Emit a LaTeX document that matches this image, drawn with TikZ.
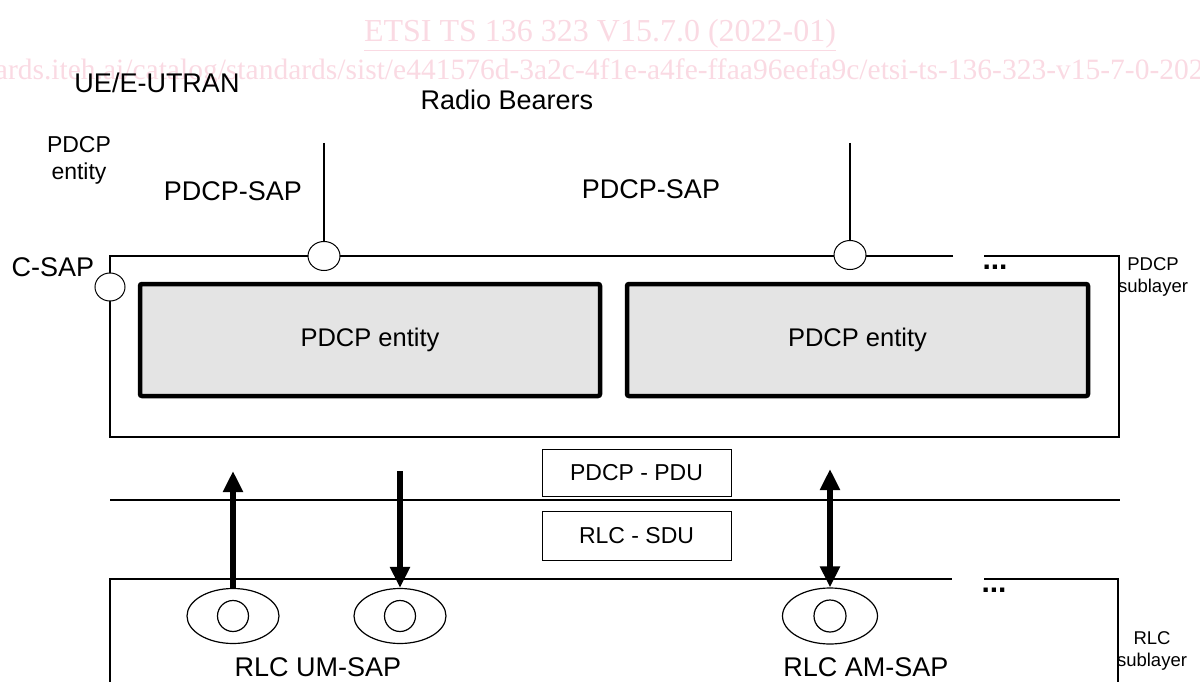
\documentclass[tikz,border=0pt]{standalone}
\usepackage{fontspec}
\setmainfont{Liberation Sans}
\newfontfamily\wmfont{Liberation Serif}
\usetikzlibrary{arrows.meta,shapes.geometric}
\definecolor{wmpink}{RGB}{250,218,227}
\definecolor{entfill}{RGB}{228,228,228}
\tikzset{
  lbl/.style={inner sep=0pt, font=\fontsize{27}{32}\selectfont},
  small/.style={inner sep=0pt, align=center, font=\fontsize{23}{27}\selectfont},
  tiny/.style={inner sep=0pt, align=center, font=\fontsize{18.5}{22}\selectfont},
  thin/.style={line width=1.3pt},
  sapring/.style={ellipse, draw, line width=1pt, fill=white, inner sep=0pt,
    minimum width=32pt, minimum height=29pt},
  entity/.style={draw, line width=4.5pt, fill=entfill, rounded corners=2pt,
    minimum height=112pt, inner sep=0pt, font=\fontsize{25.5}{30}\selectfont},
  pdubox/.style={draw, line width=1pt, minimum width=189pt, inner sep=0pt,
    font=\fontsize{23}{27}\selectfont},
  outerring/.style={ellipse, draw, line width=1.2pt, fill=white, inner sep=0pt,
    minimum width=92pt, minimum height=55pt},
  innerring/.style={circle, draw, line width=1.2pt, inner sep=0pt, minimum size=31pt},
  flow/.style={line width=6.5pt, -{Triangle[width=19pt,length=21pt]}},
  flowboth/.style={line width=6.5pt, {Triangle[width=19pt,length=21pt]}-{Triangle[width=19pt,length=21pt]}},
  dots/.style={inner sep=0pt, font=\fontsize{30}{30}\selectfont\bfseries}
}
\begin{document}
\begin{tikzpicture}[x=1pt,y=-1pt]
\useasboundingbox (0,0) rectangle (1200,682);

% document reference header
\begin{scope}
  \clip (0,0) rectangle (1200,682);
  \node[inner sep=0pt, text=wmpink, font=\wmfont\fontsize{32}{36}\selectfont]
    (hdr) at (600,35) {\underline{ETSI TS 136 323 V15.7.0 (2022-01)}};
  \node[inner sep=0pt, anchor=west, text=wmpink, font=\wmfont\fontsize{29.5}{34}\selectfont]
    (url) at (-20,72) {dards.iteh.ai/catalog/standards/sist/e441576d-3a2c-4f1e-a4fe-ffaa96eefa9c/etsi-ts-136-323-v15-7-0-2022-01};
\end{scope}

% titles and labels
\node[lbl] (ue) at (157,83) {UE/E-UTRAN};
\node[lbl] (rb) at (507,100) {Radio Bearers};
\node[small] (pdcplab) at (79,160) {PDCP\\entity};
\node[lbl] (sapAlab) at (233,191) {PDCP-SAP};
\node[lbl] (sapBlab) at (651,189) {PDCP-SAP};
\node[lbl] (csaplab) at (53,267) {C-SAP};

% PDCP sublayer frame
\draw[thin] (953,256) -- (110,256) -- (110,437) -- (1119,437) -- (1119,256) -- (984,256);
\node[dots] (dotsA) at (995,267) {...};
\node[tiny] (pdcpsub) at (1153,277) {PDCP\\sublayer};

% service access points of the PDCP sublayer
\node[sapring] (sapA) at (324,256) {};
\node[sapring] (sapB) at (850,255) {};
\node[sapring, minimum width=30pt, minimum height=28pt] (csap) at (110,287) {};
\coordinate (rbA) at (324,143);
\coordinate (rbB) at (850,143);
\draw[thin] (rbA) -- (sapA.north);
\draw[thin] (rbB) -- (sapB.north);

% PDCP entities
\node[entity, minimum width=460pt] (ent1) at (370,340) {PDCP entity};
\node[entity, minimum width=461pt] (ent2) at (857.5,340) {PDCP entity};

% layer boundary and PDU/SDU labels
\coordinate (bl) at (110,500);
\coordinate (br) at (1120,500);
\draw[thin] (bl) -- (br);
\node[pdubox, minimum height=47pt] (pdu) at (636.5,472.5) {PDCP - PDU};
\node[pdubox, minimum height=49pt] (sdu) at (636.5,535.5) {RLC - SDU};

% RLC sublayer frame
\draw[thin] (110,682) -- (110,579) -- (952,579);
\draw[thin] (984,579) -- (1118,579) -- (1118,682);
\node[dots] (dotsB) at (994,590) {...};
\node[tiny] (rlcsub) at (1152,651) {RLC\\sublayer};

% RLC service access points
\node[outerring] (um1) at (233,616) {};
\node[innerring] at (um1.center) {};
\node[outerring] (um2) at (400,616) {};
\node[innerring] at (um2.center) {};
\node[outerring, minimum width=95pt, minimum height=56pt] (am) at (830,616) {};
\node[innerring, minimum size=32pt] at (am.center) {};
\node[lbl] (umlab) at (318,667) {RLC UM-SAP};
\node[lbl] (amlab) at (866,667) {RLC AM-SAP};

% data flow between PDCP and RLC
\coordinate (upend) at (233,471);
\coordinate (downstart) at (400,471);
\coordinate (amend) at (830,469);
\draw[flow] (um1.north) -- (upend);
\draw[flow] (downstart) -- (um2.north);
\draw[flowboth] (amend) -- (am.north);
\end{tikzpicture}
\end{document}
